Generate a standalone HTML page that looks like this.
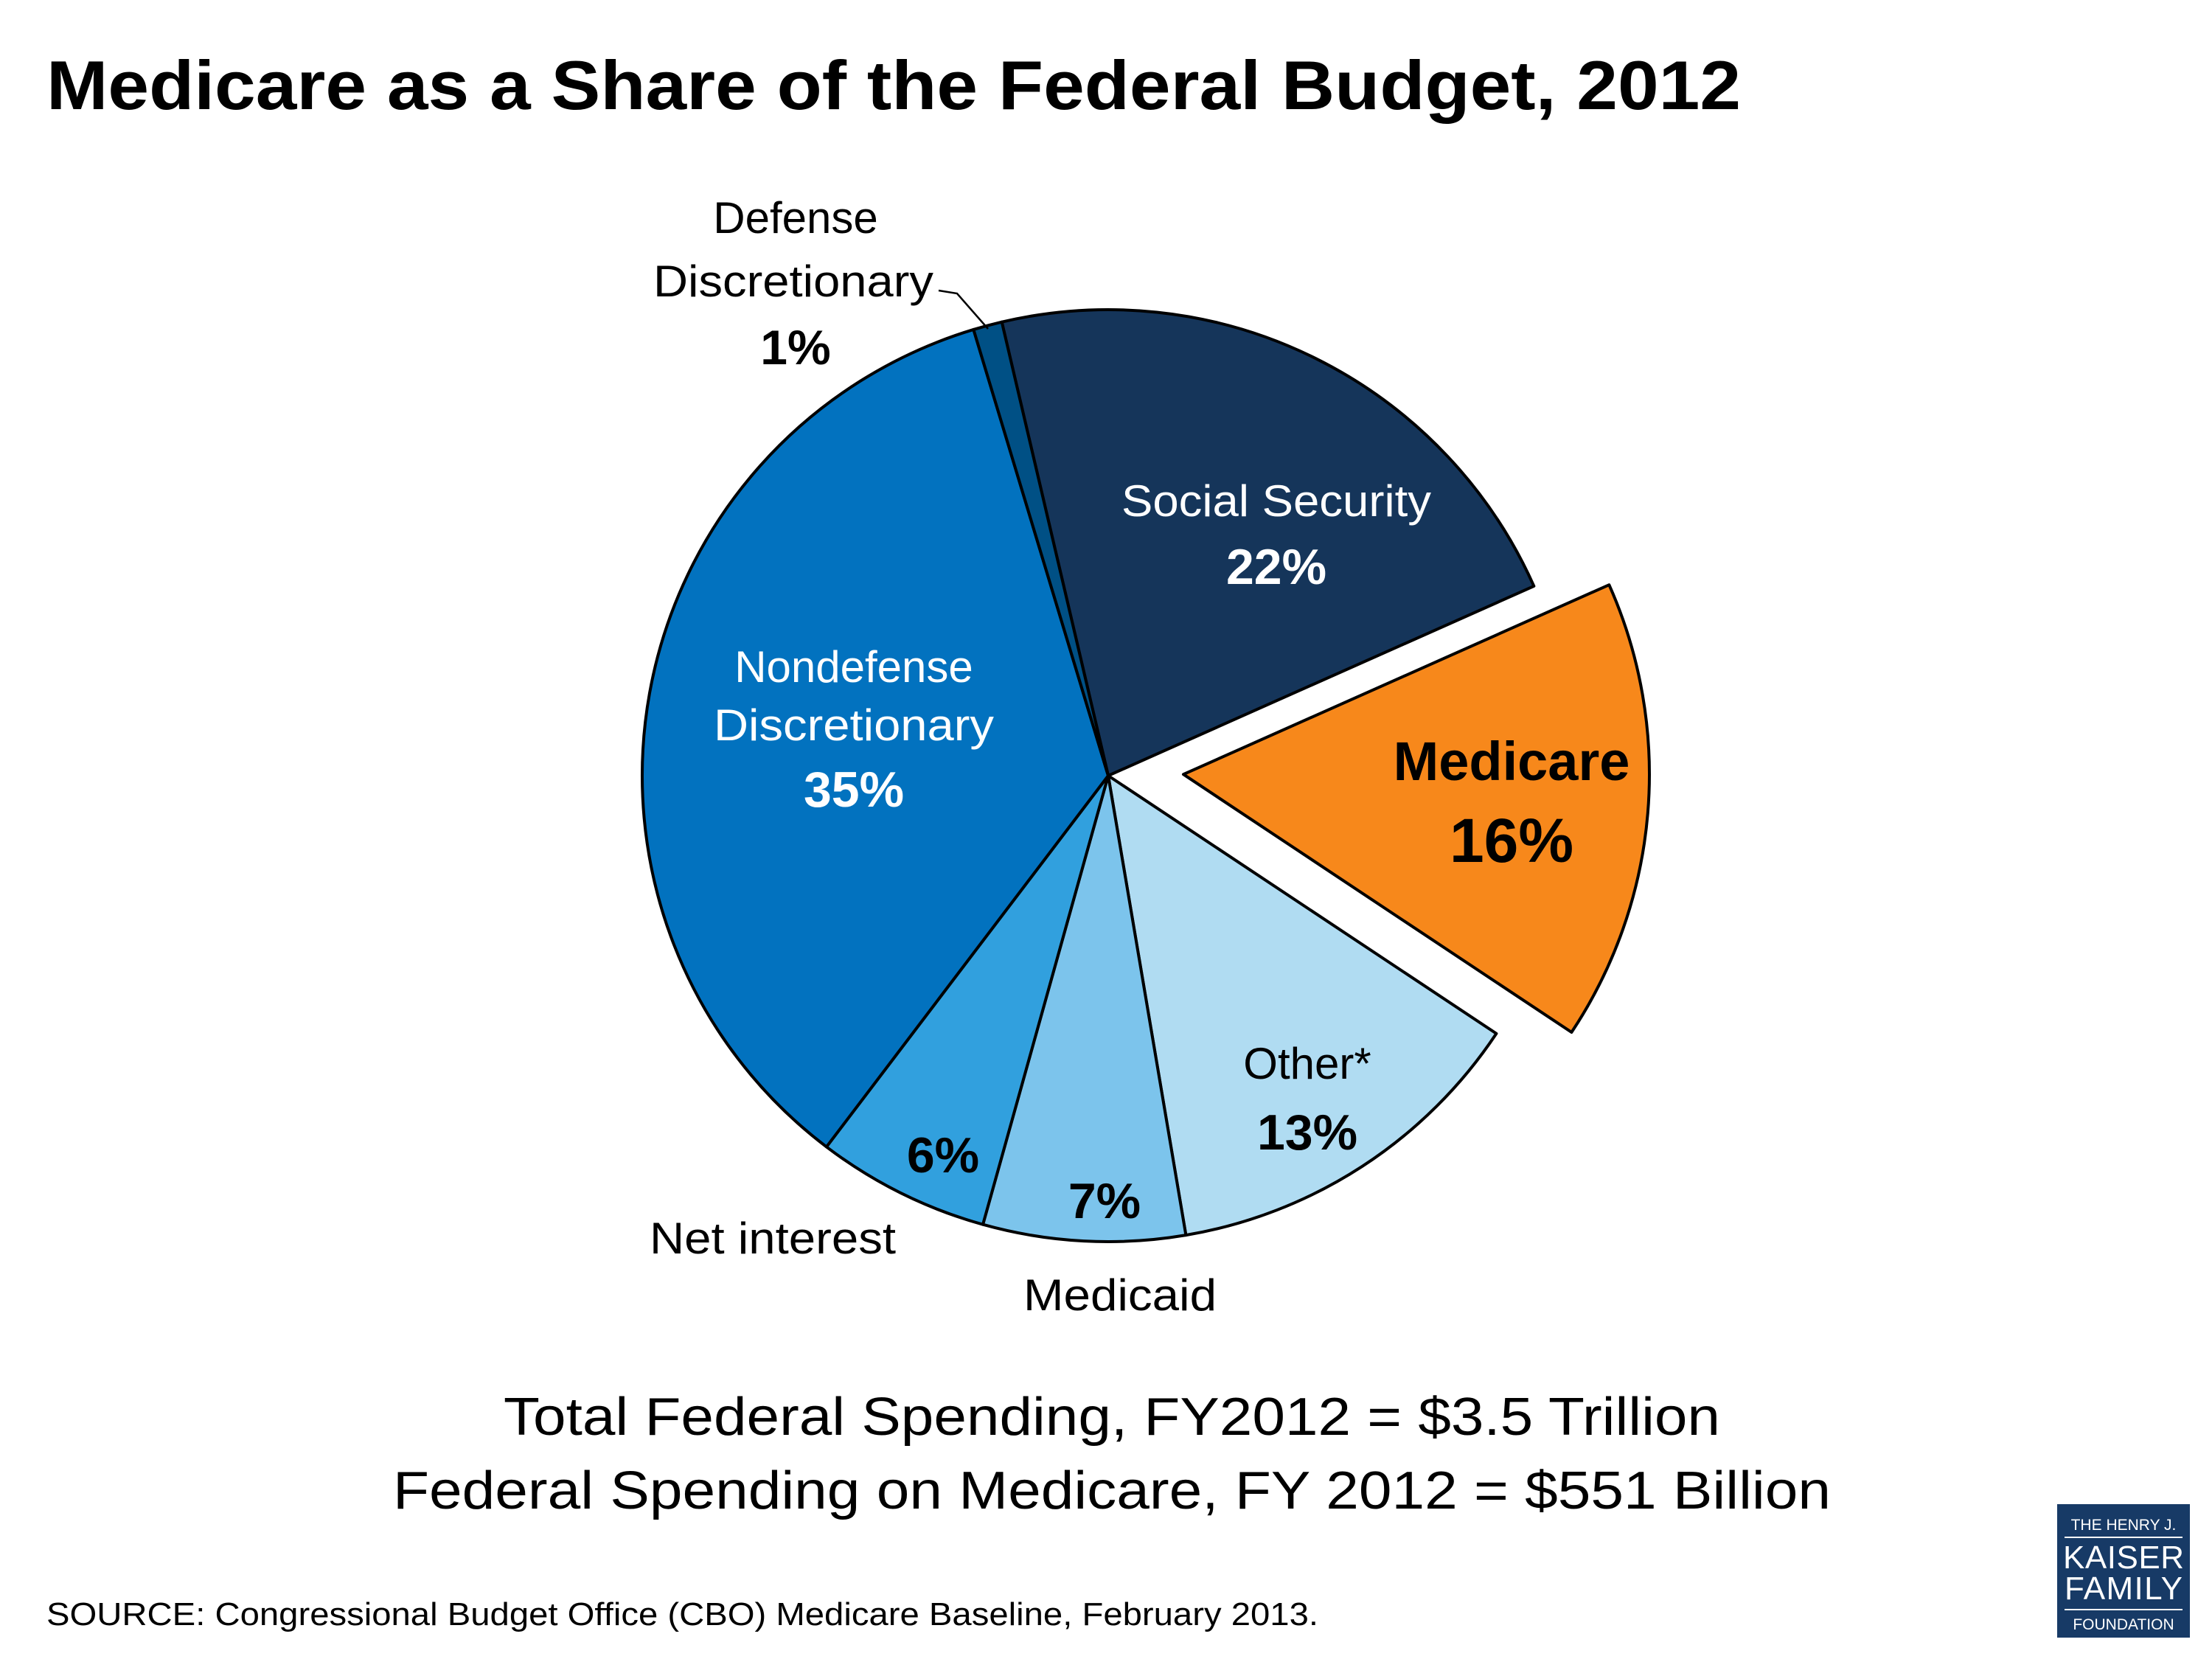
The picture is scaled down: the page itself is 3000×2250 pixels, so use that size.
<!DOCTYPE html>
<html><head><meta charset="utf-8"><style>
html,body{margin:0;padding:0;background:#fff;}
svg{display:block;}
text{font-family:"Liberation Sans",sans-serif;}
</style></head><body>
<svg id="chart" width="3000" height="2250" viewBox="0 0 3000 2250" xmlns="http://www.w3.org/2000/svg">
<rect width="3000" height="2250" fill="#fff"/>
<text x="63" y="148" font-size="94" font-weight="bold" fill="#000" textLength="2298" lengthAdjust="spacingAndGlyphs">Medicare as a Share of the Federal Budget, 2012</text>
<g id="slices"></g>
<polyline points="1273,394 1298,398 1340,446" fill="none" stroke="#000" stroke-width="2.5"/>
<g font-size="60" text-anchor="middle">
<text x="1079" y="316">Defense</text>
<text x="1076" y="402" textLength="380" lengthAdjust="spacingAndGlyphs">Discretionary</text>
<text x="1079" y="494" font-weight="bold" font-size="66">1%</text>
<text x="1731" y="700" fill="#fff" textLength="420" lengthAdjust="spacingAndGlyphs">Social Security</text>
<text x="1731" y="792" fill="#fff" font-weight="bold" font-size="68">22%</text>
<text x="1158" y="925" fill="#fff">Nondefense</text>
<text x="1158" y="1004" fill="#fff" textLength="380" lengthAdjust="spacingAndGlyphs">Discretionary</text>
<text x="1158" y="1094" fill="#fff" font-weight="bold" font-size="68">35%</text>
<text x="2050" y="1058" font-weight="bold" font-size="74">Medicare</text>
<text x="2050" y="1169" font-weight="bold" font-size="84">16%</text>
<text x="1773" y="1463">Other*</text>
<text x="1773" y="1559" font-weight="bold" font-size="68">13%</text>
<text x="1279" y="1590" font-weight="bold" font-size="68">6%</text>
<text x="1498" y="1652" font-weight="bold" font-size="68">7%</text>
<text x="1048" y="1700" textLength="334" lengthAdjust="spacingAndGlyphs">Net interest</text>
<text x="1519" y="1777" textLength="262" lengthAdjust="spacingAndGlyphs">Medicaid</text>
</g>
<text x="1508" y="1946" font-size="72" text-anchor="middle" textLength="1650" lengthAdjust="spacingAndGlyphs">Total Federal Spending, FY2012 = $3.5 Trillion</text>
<text x="1508" y="2046" font-size="72" text-anchor="middle" textLength="1950" lengthAdjust="spacingAndGlyphs">Federal Spending on Medicare, FY 2012 = $551 Billion</text>
<text x="63" y="2204" font-size="44" textLength="1725" lengthAdjust="spacingAndGlyphs">SOURCE: Congressional Budget Office (CBO) Medicare Baseline, February 2013.</text>
<g>
<rect x="2790" y="2040" width="180" height="181" fill="#173a66"/>
<text x="2880" y="2075" font-family="Liberation Serif,serif" font-size="21" fill="#fff" text-anchor="middle">THE HENRY J.</text>
<rect x="2800" y="2084" width="160" height="2" fill="#fff"/>
<text x="2880" y="2127" font-family="Liberation Serif,serif" font-size="44" fill="#fff" text-anchor="middle" textLength="164">KAISER</text>
<text x="2880" y="2169" font-family="Liberation Serif,serif" font-size="44" fill="#fff" text-anchor="middle" textLength="160">FAMILY</text>
<rect x="2800" y="2182" width="160" height="2" fill="#fff"/>
<text x="2880" y="2210" font-family="Liberation Serif,serif" font-size="21" fill="#fff" text-anchor="middle">FOUNDATION</text>
</g>
</svg>
<script>
const categories = ["Social Security","Medicare","Other*","Medicaid","Net interest","Nondefense Discretionary","Defense Discretionary"];
const shares = [22,16,13,7,6,35,1];
const colors = ["#15355a","#f7881b","#b0dcf2","#7cc4ec","#31a0de","#0272bf","#005085"];
const exploded = [false,true,false,false,false,false,false];
const cx = 1503, cy = 1052, r = 632, startDeg = -13.2, explodeDist = 102, explodeDeg = 89;
const g = document.getElementById('slices');
const total = shares.reduce((a,b)=>a+b,0);
let a0 = startDeg;
function pt(x,y,deg,rad){const t=deg*Math.PI/180;return [x+rad*Math.sin(t), y-rad*Math.cos(t)];}
shares.forEach((v,i)=>{
  const sweep = v/total*360, a1 = a0+sweep;
  let ox=cx, oy=cy;
  if(exploded[i]){const p=pt(0,0,explodeDeg,explodeDist);ox+=p[0];oy+=p[1];}
  const p0=pt(ox,oy,a0,r), p1=pt(ox,oy,a1,r);
  const path=document.createElementNS('http://www.w3.org/2000/svg','path');
  path.setAttribute('d',`M${ox},${oy} L${p0[0]},${p0[1]} A${r},${r} 0 ${sweep>180?1:0} 1 ${p1[0]},${p1[1]} Z`);
  path.setAttribute('fill',colors[i]);
  path.setAttribute('stroke','#000');
  path.setAttribute('stroke-width','4');
  path.setAttribute('stroke-linejoin','round');
  
  
  g.appendChild(path);
  a0=a1;
});
</script>
</body></html>
